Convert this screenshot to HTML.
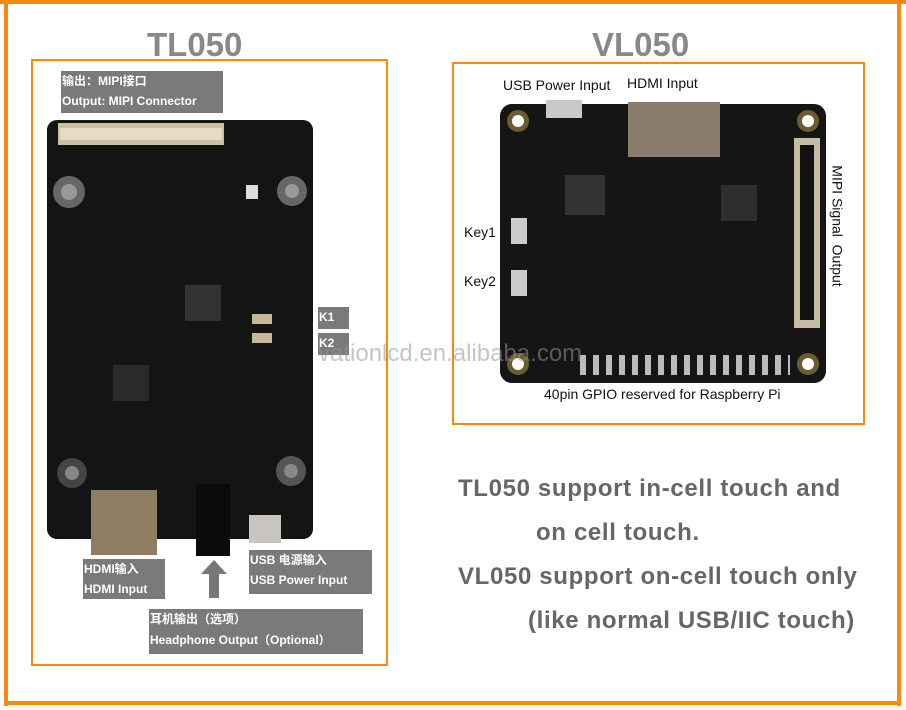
<!DOCTYPE html>
<html><head><meta charset="utf-8"><style>
*{margin:0;padding:0;box-sizing:border-box}
body{width:906px;height:710px;background:#fff;position:relative;overflow:hidden;font-family:"Liberation Sans","Noto Sans CJK SC",sans-serif}
.a{position:absolute}
.lbl{position:absolute;background:#7a7a7a;color:#fff;font-weight:bold;font-size:12px;line-height:20px;padding-left:1px;white-space:nowrap}
.t{position:absolute;color:#666;font-weight:bold;font-size:24px;letter-spacing:0.65px;white-space:nowrap}
.s{position:absolute;color:#111;font-size:14px;white-space:nowrap}
</style></head><body>
<div class="a" style="left:0;top:0;width:906px;height:4px;background:#f7890f"></div>
<div class="a" style="left:4px;top:0;width:4px;height:706px;background:#f7890f"></div>
<div class="a" style="left:897px;top:0;width:4px;height:706px;background:#f7890f"></div>
<div class="a" style="left:4px;top:701px;width:897px;height:4px;background:#f7890f"></div>

<div class="a" style="left:147px;top:26px;font-size:33px;font-weight:bold;color:#888">TL050</div>
<div class="a" style="left:592px;top:26px;font-size:33px;font-weight:bold;color:#888">VL050</div>

<div class="a" style="left:31px;top:59px;width:357px;height:607px;border:2px solid #f7890f"></div>
<div class="a" style="left:452px;top:62px;width:413px;height:363px;border:2px solid #f7890f"></div>

<!-- TL050 board -->
<div class="a" style="left:47px;top:120px;width:266px;height:419px;background:#141414;border-radius:10px"></div>
<div class="a" style="left:58px;top:123px;width:166px;height:22px;background:#cdbfa5"></div>
<div class="a" style="left:60px;top:128px;width:162px;height:12px;background:#e6dbc7"></div>
<div class="a" style="left:53px;top:176px;width:32px;height:32px;border-radius:50%;background:#999;border:8px solid #666"></div>
<div class="a" style="left:277px;top:176px;width:30px;height:30px;border-radius:50%;background:#999;border:8px solid #666"></div>
<div class="a" style="left:57px;top:458px;width:30px;height:30px;border-radius:50%;background:#888;border:8px solid #444"></div>
<div class="a" style="left:276px;top:456px;width:30px;height:30px;border-radius:50%;background:#888;border:8px solid #555"></div>
<div class="a" style="left:185px;top:285px;width:36px;height:36px;background:#333"></div>
<div class="a" style="left:113px;top:365px;width:36px;height:36px;background:#2a2a2a"></div>
<div class="a" style="left:246px;top:185px;width:12px;height:14px;background:#ddd"></div>
<div class="a" style="left:252px;top:314px;width:20px;height:10px;background:#c9b79a"></div>
<div class="a" style="left:252px;top:333px;width:20px;height:10px;background:#c9b79a"></div>
<div class="a" style="left:91px;top:490px;width:66px;height:65px;background:#8f7d62"></div>
<div class="a" style="left:196px;top:484px;width:34px;height:72px;background:#0b0b0b"></div>
<div class="a" style="left:249px;top:515px;width:32px;height:28px;background:#c8c5c0"></div>

<div class="lbl" style="left:61px;top:71px;width:162px;height:42px">输出：MIPI接口<br>Output: MIPI Connector</div>
<div class="lbl" style="left:318px;top:307px;width:31px;height:22px">K1</div>
<div class="lbl" style="left:318px;top:333px;width:31px;height:22px">K2</div>
<div class="lbl" style="left:83px;top:559px;width:82px;height:40px">HDMI输入<br>HDMI Input</div>
<div class="lbl" style="left:249px;top:550px;width:123px;height:44px">USB 电源输入<br>USB Power Input</div>
<div class="lbl" style="left:149px;top:609px;width:214px;height:45px;line-height:21px">耳机输出（选项）<br>Headphone Output（Optional）</div>
<svg class="a" style="left:200px;top:560px" width="28" height="38"><polygon points="14,0 27,14 19,14 19,38 9,38 9,14 1,14" fill="#777"/></svg>

<!-- VL050 board -->
<div class="a" style="left:500px;top:104px;width:326px;height:279px;background:#151515;border-radius:12px"></div>
<div class="a" style="left:507px;top:110px;width:22px;height:22px;border-radius:50%;background:#fff;border:5px solid #6b5e2e"></div>
<div class="a" style="left:797px;top:110px;width:22px;height:22px;border-radius:50%;background:#fff;border:5px solid #6b5e2e"></div>
<div class="a" style="left:507px;top:353px;width:22px;height:22px;border-radius:50%;background:#fff;border:5px solid #6b5e2e"></div>
<div class="a" style="left:797px;top:353px;width:22px;height:22px;border-radius:50%;background:#fff;border:5px solid #6b5e2e"></div>
<div class="a" style="left:628px;top:102px;width:92px;height:55px;background:#8a7c6a"></div>
<div class="a" style="left:546px;top:100px;width:36px;height:18px;background:#c8c8c8"></div>
<div class="a" style="left:794px;top:138px;width:26px;height:190px;background:#c8bba5"></div>
<div class="a" style="left:800px;top:145px;width:14px;height:175px;background:#111"></div>
<div class="a" style="left:565px;top:175px;width:40px;height:40px;background:#333"></div>
<div class="a" style="left:721px;top:185px;width:36px;height:36px;background:#2e2e2e"></div>
<div class="a" style="left:511px;top:218px;width:16px;height:26px;background:#ccc"></div>
<div class="a" style="left:511px;top:270px;width:16px;height:26px;background:#ccc"></div>
<div class="a" style="left:580px;top:355px;width:210px;height:20px;background:repeating-linear-gradient(90deg,#bbb 0 6px,#151515 6px 13px)"></div>

<div class="s" style="left:503px;top:77px">USB Power Input</div>
<div class="s" style="left:627px;top:75px">HDMI Input</div>
<div class="s" style="left:464px;top:224px">Key1</div>
<div class="s" style="left:464px;top:273px">Key2</div>
<div class="s" style="left:544px;top:386px">40pin GPIO reserved for Raspberry Pi</div>
<div class="s" style="left:777px;top:218px;transform:rotate(90deg);transform-origin:center">MIPI Signal&nbsp; Output</div>
<div class="a" style="left:318px;top:340px;font-size:24px;color:rgba(150,150,150,0.55);white-space:nowrap">vationlcd.en.alibaba.com</div>

<div class="t" style="left:458px;top:475px">TL050 support in-cell touch and</div>
<div class="t" style="left:536px;top:519px">on cell touch.</div>
<div class="t" style="left:458px;top:563px">VL050 support on-cell touch only</div>
<div class="t" style="left:528px;top:607px">(like normal USB/IIC touch)</div>
</body></html>
